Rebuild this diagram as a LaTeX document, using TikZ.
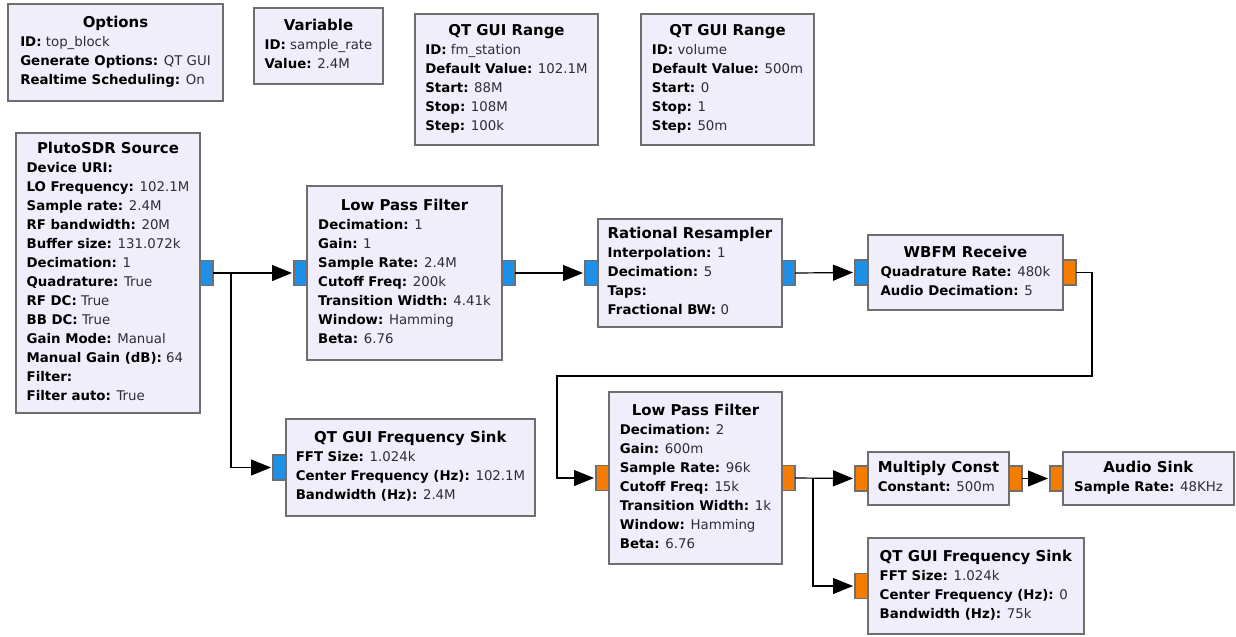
\documentclass[tikz,border=0pt]{standalone}
\usepackage{fontspec}
\setmainfont{DejaVu Sans}
\usetikzlibrary{arrows.meta}

\definecolor{blockfill}{RGB}{241,238,252}
\definecolor{blockline}{RGB}{110,110,110}
\definecolor{cplxport}{RGB}{30,144,232}
\definecolor{fltport}{RGB}{245,124,0}
\definecolor{valtext}{RGB}{45,45,55}

\newcommand{\grctitle}[1]{\multicolumn{1}{@{}c@{}}{\fontsize{11.2}{14.25}\selectfont\textbf{#1}}}
\newcommand{\grcfield}[2]{\textbf{#1:} {\color{valtext}#2}}

\tikzset{
  block/.style={draw=blockline, fill=blockfill, line width=0.9pt, rectangle,
    inner sep=0pt, outer sep=0pt, anchor=north west, text=black,
    font=\fontsize{10}{14.25}\selectfont},
  bsize/.style 2 args={minimum width=#1*0.75pt, minimum height=#2*0.75pt},
  port/.style={draw=blockline, line width=0.9pt, inner sep=0pt, outer sep=0pt,
    minimum width=9.75pt, minimum height=18.75pt},
  bport/.style={port, fill=cplxport},
  oport/.style={port, fill=fltport},
  wire/.style={draw=black, line width=0.9pt},
  flow/.style={wire, -{Triangle[length=15pt,width=12pt]}, shorten >=1.5pt}
}

\begin{document}
\begin{tikzpicture}[x=0.75pt, y=-0.75pt]
\useasboundingbox (0,0) rectangle (1236,636);

% Variablen und Optionen
\node[block, bsize={215}{97}] (opt) at (8,4) {\begin{tabular}{@{}l@{}}
  \grctitle{Options}\\
  \grcfield{ID}{top\_block}\\
  \grcfield{Generate Options}{QT GUI}\\
  \grcfield{Realtime Scheduling}{On}
\end{tabular}};
\node[block, bsize={129}{76}] (var) at (254,8) {\begin{tabular}{@{}l@{}}
  \grctitle{Variable}\\
  \grcfield{ID}{sample\_rate}\\
  \grcfield{Value}{2.4M}
\end{tabular}};
\node[block, bsize={183}{131}] (rng1) at (415,14) {\begin{tabular}{@{}l@{}}
  \grctitle{QT GUI Range}\\
  \grcfield{ID}{fm\_station}\\
  \grcfield{Default Value}{102.1M}\\
  \grcfield{Start}{88M}\\
  \grcfield{Stop}{108M}\\
  \grcfield{Step}{100k}
\end{tabular}};
\node[block, bsize={173}{131}] (rng2) at (641,14) {\begin{tabular}{@{}l@{}}
  \grctitle{QT GUI Range}\\
  \grcfield{ID}{volume}\\
  \grcfield{Default Value}{500m}\\
  \grcfield{Start}{0}\\
  \grcfield{Stop}{1}\\
  \grcfield{Step}{50m}
\end{tabular}};

% Quelle und erste Stufe
\node[block, bsize={184}{280}] (src) at (16,133) {\begin{tabular}{@{}l@{}}
  \grctitle{PlutoSDR Source}\\
  \textbf{Device URI:}\\
  \grcfield{LO Frequency}{102.1M}\\
  \grcfield{Sample rate}{2.4M}\\
  \grcfield{RF bandwidth}{20M}\\
  \grcfield{Buffer size}{131.072k}\\
  \grcfield{Decimation}{1}\\
  \grcfield{Quadrature}{True}\\
  \grcfield{RF DC}{True}\\
  \grcfield{BB DC}{True}\\
  \grcfield{Gain Mode}{Manual}\\
  \grcfield{Manual Gain (dB)}{64}\\
  \textbf{Filter:}\\
  \grcfield{Filter auto}{True}
\end{tabular}};
\node[block, bsize={195}{174}] (lpf1) at (307,186) {\begin{tabular}{@{}l@{}}
  \grctitle{Low Pass Filter}\\
  \grcfield{Decimation}{1}\\
  \grcfield{Gain}{1}\\
  \grcfield{Sample Rate}{2.4M}\\
  \grcfield{Cutoff Freq}{200k}\\
  \grcfield{Transition Width}{4.41k}\\
  \grcfield{Window}{Hamming}\\
  \grcfield{Beta}{6.76}
\end{tabular}};
\node[block, bsize={184}{108}] (rrs) at (598,219) {\begin{tabular}{@{}l@{}}
  \grctitle{Rational Resampler}\\
  \grcfield{Interpolation}{1}\\
  \grcfield{Decimation}{5}\\
  \textbf{Taps:}\\
  \grcfield{Fractional BW}{0}
\end{tabular}};
\node[block, bsize={195}{75}] (wbfm) at (868,235) {\begin{tabular}{@{}l@{}}
  \grctitle{WBFM Receive}\\
  \grcfield{Quadrature Rate}{480k}\\
  \grcfield{Audio Decimation}{5}
\end{tabular}};
\node[block, bsize={249}{97}] (fsk1) at (286,419) {\begin{tabular}{@{}l@{}}
  \grctitle{QT GUI Frequency Sink}\\
  \grcfield{FFT Size}{1.024k}\\
  \grcfield{Center Frequency (Hz)}{102.1M}\\
  \grcfield{Bandwidth (Hz)}{2.4M}
\end{tabular}};

% Audio-Teil
\node[block, bsize={173}{172}] (lpf2) at (609,392) {\begin{tabular}{@{}l@{}}
  \grctitle{Low Pass Filter}\\
  \grcfield{Decimation}{2}\\
  \grcfield{Gain}{600m}\\
  \grcfield{Sample Rate}{96k}\\
  \grcfield{Cutoff Freq}{15k}\\
  \grcfield{Transition Width}{1k}\\
  \grcfield{Window}{Hamming}\\
  \grcfield{Beta}{6.76}
\end{tabular}};
\node[block, bsize={141}{53}] (mul) at (868,452) {\begin{tabular}{@{}l@{}}
  \grctitle{Multiply Const}\\
  \grcfield{Constant}{500m}
\end{tabular}};
\node[block, bsize={171}{53}] (aud) at (1063,452) {\begin{tabular}{@{}l@{}}
  \grctitle{Audio Sink}\\
  \grcfield{Sample Rate}{48KHz}
\end{tabular}};
\node[block, bsize={216}{96}] (fsk2) at (868,538) {\begin{tabular}{@{}l@{}}
  \grctitle{QT GUI Frequency Sink}\\
  \grcfield{FFT Size}{1.024k}\\
  \grcfield{Center Frequency (Hz)}{0}\\
  \grcfield{Bandwidth (Hz)}{75k}
\end{tabular}};

% Ports
\begin{scope}
  \node[bport, anchor=west] (src-out) at (src.east) {};
  \node[bport, anchor=east] (lpf1-in) at (lpf1.west) {};
  \node[bport, anchor=west] (lpf1-out) at (lpf1.east) {};
  \node[bport, anchor=east] (rrs-in) at (rrs.west) {};
  \node[bport, anchor=west] (rrs-out) at (rrs.east) {};
  \node[bport, anchor=east] (wbfm-in) at (wbfm.west) {};
  \node[oport, anchor=west] (wbfm-out) at (wbfm.east) {};
  \node[bport, anchor=east] (fsk1-in) at (fsk1.west) {};
  \node[oport, anchor=east] (lpf2-in) at (lpf2.west) {};
  \node[oport, anchor=west] (lpf2-out) at (lpf2.east) {};
  \node[oport, anchor=east] (mul-in) at (mul.west) {};
  \node[oport, anchor=west] (mul-out) at (mul.east) {};
  \node[oport, anchor=east] (aud-in) at (aud.west) {};
  \node[oport, anchor=east] (fsk2-in) at (fsk2.west) {};
\end{scope}

% Verbindungen
\coordinate (split1) at (231,272);
\coordinate (split2) at (813,478);
\coordinate (bendA) at (1092,376);
\coordinate (bendB) at (557,376);
\begin{scope}[flow]
  \draw (src-out.east) -- (lpf1-in.west);
  \draw (split1) |- (fsk1-in.west);
  \draw (lpf1-out.east) -- (rrs-in.west);
  \draw (rrs-out.east) -- (wbfm-in.west);
  \draw (wbfm-out.east) -| (bendA) -- (bendB) |- (lpf2-in.west);
  \draw (lpf2-out.east) -- (mul-in.west);
  \draw (split2) |- (fsk2-in.west);
  \draw (mul-out.east) -- (aud-in.west);
\end{scope}
\end{tikzpicture}
\end{document}
